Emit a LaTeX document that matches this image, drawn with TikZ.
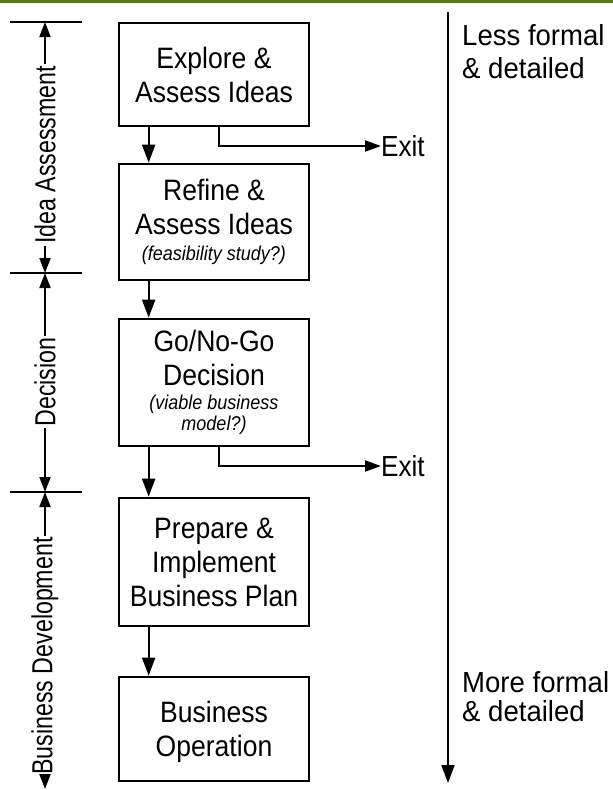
\documentclass[tikz,border=0pt]{standalone}
\usepackage{fontspec}
\setmainfont[FakeStretch=0.9]{Liberation Sans}
\newfontfamily\lbfont[FakeStretch=0.8]{Liberation Sans}
\newfontfamily\rtfont[FakeStretch=0.95]{Liberation Sans}
\usetikzlibrary{arrows.meta}
\definecolor{topgreen}{RGB}{84,122,30}
\begin{document}
\begin{tikzpicture}[x=1pt,y=-1pt,
  box/.style={draw, line width=2.7pt, minimum width=190pt, inner sep=0pt, align=center,
    font=\fontsize{29.5}{34}\selectfont},
  itl/.style={},
  arr/.style={line width=2pt, -{Triangle[length=18pt,width=13pt]}},
  exitarr/.style={line width=2pt, -{Triangle[length=16pt,width=11pt]}},
  barr/.style={line width=2pt, -{Triangle[length=15pt,width=11pt]}},
  tick/.style={line width=2pt},
  lab/.style={rotate=90, inner sep=1.5pt, font=\lbfont\fontsize{29}{32}\selectfont},
  rtxt/.style={anchor=north west, inner sep=0pt, align=left},
  exitlbl/.style={anchor=west, inner sep=0pt, font=\fontsize{29}{32}\selectfont}]
\useasboundingbox (0,0) rectangle (613,790);
\draw[topgreen, line width=2.6pt] (0,1.3) -- (613,1.3);

% boxes
\node[box, minimum height=103pt] (b1) at (214,74.5) {Explore \&\\Assess Ideas};
\node[box, minimum height=116pt] (b2) at (214,222) {Refine \&\\Assess Ideas\\[-8pt]{\fontsize{20}{22}\selectfont\itshape (feasibility study?)}};
\node[box, minimum height=127pt] (b3) at (214,382.5) {Go/No-Go\\Decision\\[-10pt]{\fontsize{20}{22}\selectfont\itshape (viable business}\\[-13pt]{\fontsize{20}{22}\selectfont\itshape model?)}};
\node[box, minimum height=128pt] (b4) at (214,562) {Prepare \&\\Implement\\Business Plan};
\node[box, minimum height=104pt, text depth=0pt] (b5) at (214,729) {Business\\Operation};

% flow arrows
\draw[arr] ([xshift=31pt]b1.south west) -- ([xshift=31pt]b2.north west);
\draw[arr] ([xshift=31pt]b2.south west) -- ([xshift=31pt]b3.north west);
\draw[arr] ([xshift=31pt]b3.south west) -- ([xshift=31pt]b4.north west);
\draw[arr] ([xshift=31pt]b4.south west) -- ([xshift=31pt]b5.north west);

% exits
\node[exitlbl] (x1) at (381,146) {Exit};
\node[exitlbl] (x2) at (381,466) {Exit};
\draw[exitarr] ([xshift=101pt]b1.south west) |- (x1.west);
\draw[exitarr] ([xshift=101pt]b3.south west) |- (x2.west);

% left brackets
\coordinate (t1) at (45,22);
\coordinate (t2) at (45,273);
\coordinate (t3) at (45,492);
\coordinate (t4) at (45,789);
\draw[tick] (10,22) -- (82,22);
\draw[tick] (10,273) -- (82,273);
\draw[tick] (10,492) -- (82,492);
\node[lab] (ia) at (45,155) {Idea Assessment};
\node[lab] (de) at (45,382) {Decision};
\node[lab] (bd) at (45,656) {Business Development};
\draw[barr] (ia.east) -- (t1);
\draw[barr] (ia.west) -- (t2);
\draw[barr] (de.east) -- (t2);
\draw[barr] (de.west) -- (t3);
\draw[barr] (bd.east) -- (t3);
\draw[barr] (bd.west) -- (t4);

% right scale
\coordinate (rtop) at (448,12);
\coordinate (rbot) at (448,783);
\draw[arr] (rtop) -- (rbot);
\node[rtxt, font=\rtfont\fontsize{29}{33}\selectfont] (less) at (462,24) {Less formal\\\& detailed};
\node[rtxt, font=\rtfont\fontsize{29}{29}\selectfont] (more) at (462,671) {More formal\\\& detailed};
\end{tikzpicture}
\end{document}
